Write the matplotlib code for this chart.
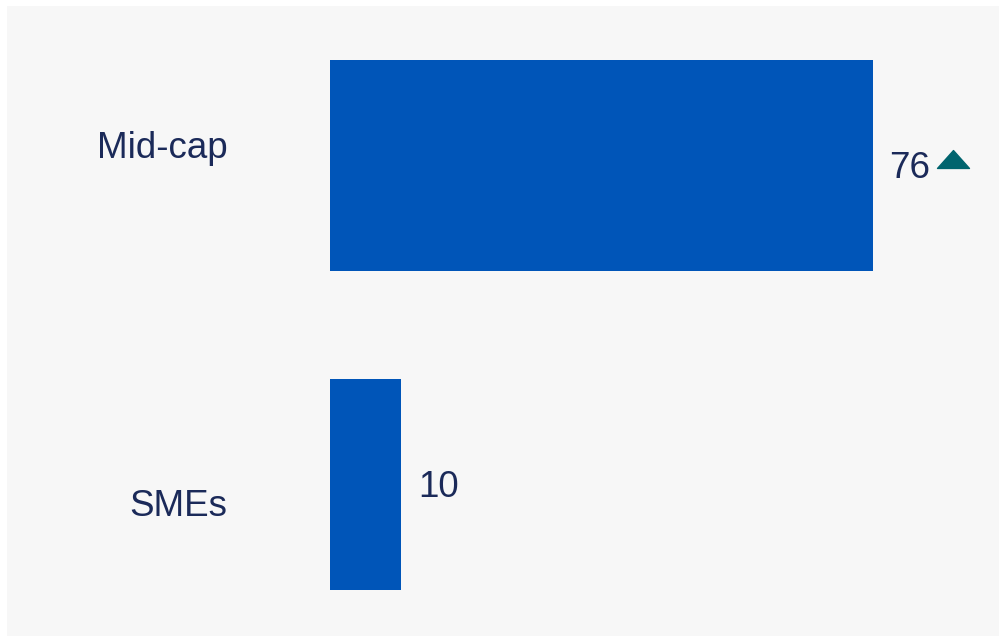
#!/usr/bin/env python3
"""
Horizontal bar chart: Mid-cap vs SMEs
"""
import matplotlib.pyplot as plt
from matplotlib.path import Path
from matplotlib.patches import Rectangle
from matplotlib.transforms import ScaledTranslation

categories = ['Mid-cap', 'SMEs']
values = [76, 10]
trend_up = [True, False]
# label nudge in points (positive = up)
label_shift = [12, -16]

barColor = '#0055b8'
textColor = '#1b2a59'
trendColor = '#00646e'
panelColor = '#f7f7f7'

plt.rcParams['font.family'] = ['Liberation Sans', 'DejaVu Sans']

fig = plt.figure(figsize=(9.99, 6.36), dpi=100)
fig.patch.set_facecolor('white')
fig.patches.append(Rectangle((7 / 999, 0), 1, 1 - 6 / 636, transform=fig.transFigure,
                             facecolor=panelColor, edgecolor='none', zorder=-5))

ax = fig.add_axes([330 / 999, 0, 1 - 330 / 999, 1])
ax.set_facecolor('none')
for side in ax.spines.values():
    side.set_visible(False)
ax.set_xticks([])
ax.set_yticks([])

ypos = list(range(len(categories)))
ax.barh(ypos, values, height=0.66, color=barColor)
ax.set_xlim(0, 669 / 7.14)
ax.set_ylim(1.475, -0.519)

# triangle marker, wider than tall
triangle = Path([(-1, -0.56), (1, -0.56), (0, 0.56), (-1, -0.56)],
                [Path.MOVETO, Path.LINETO, Path.LINETO, Path.CLOSEPOLY])

for i, (name, val, up) in enumerate(zip(categories, values, trend_up)):
    ax.annotate(name, xy=(0, i), xytext=(-74, label_shift[i]), textcoords='offset points',
                ha='right', va='center', fontsize=26.5, color=textColor)
    ax.annotate(f'{val}', xy=(val, i), xytext=(12, -2), textcoords='offset points',
                ha='left', va='center', fontsize=26.5, color=textColor)
    if up:
        shift = ScaledTranslation(58 / 72, 4.5 / 72, fig.dpi_scale_trans)
        ax.plot([val], [i], marker=triangle, markersize=23, color=trendColor,
                linestyle='none', clip_on=False, transform=ax.transData + shift)

plt.savefig('out.png', dpi=100)
